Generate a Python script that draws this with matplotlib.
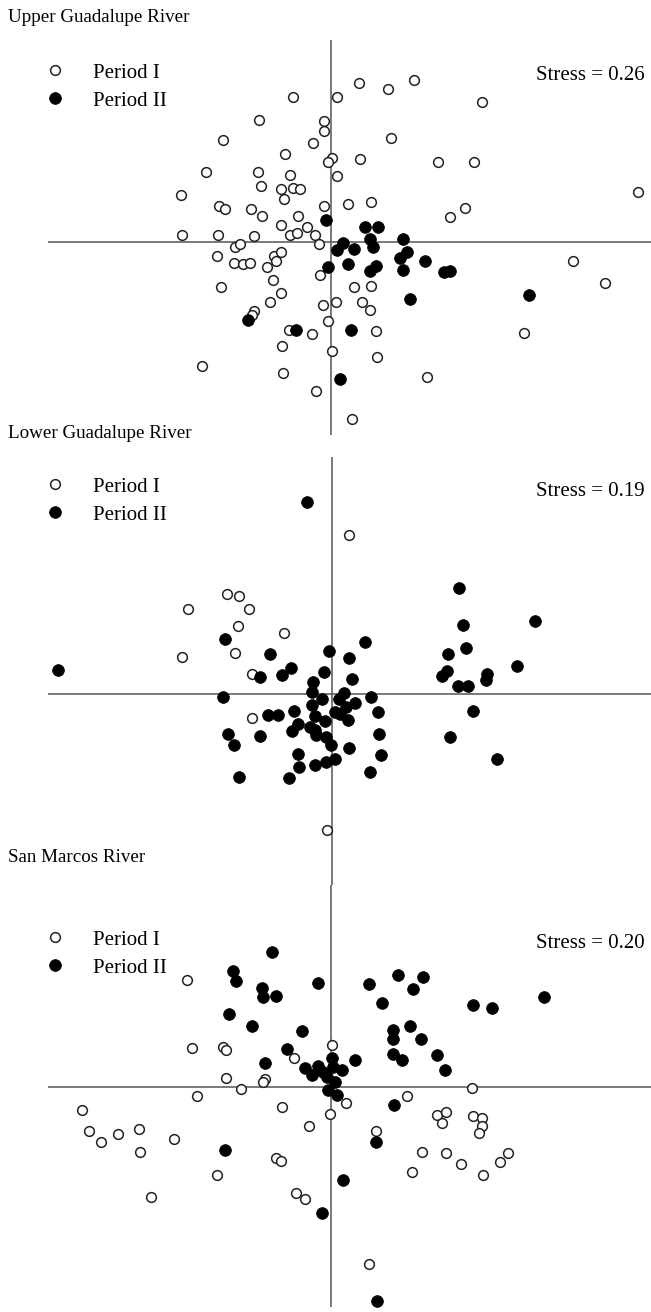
import matplotlib
matplotlib.use("Agg")
import matplotlib.pyplot as plt
from matplotlib.lines import Line2D

plt.rcParams['font.family'] = ['Liberation Serif', 'DejaVu Serif']

# NMDS scores (Period I = open, Period II = filled)
upper_p1_x = [-0.38, 0.06, 0.28, 0.57, 0.83, 1.51, -0.72, -0.07, -0.07, -1.08,
              -0.18, 0.60, -0.46, 0.01, -0.03, 0.29, 1.07, 1.43, -1.25, -0.73,
              -0.41, 0.06, -0.70, -0.50, -0.38, -0.31, -0.47, -1.50, 3.07, -1.12,
              -1.06, -0.80, -0.07, 0.17, 0.40, 1.34, 1.19, -0.69, -0.33, -1.49,
              -1.13, -0.77, -0.96, -0.91, -0.50, -0.41, -0.34, -0.24, -0.16, -0.12,
              -1.14, -0.97, -0.88, -0.81, -0.57, -0.50, -0.55, -0.64, -0.11, -0.58,
              -1.10, -0.50, -0.61, -0.08, -0.77, -0.79, -0.03, -0.42, -0.19, -0.49,
              0.01, -1.29, -0.48, -0.15, 0.23, 0.40, 0.05, 0.31, 0.39, 0.45,
              0.46, 0.96, 0.21, 2.42, 2.74, 1.93]
upper_p1_y = [1.45, 1.45, 1.59, 1.53, 1.62, 1.40, 1.22, 1.21, 1.11, 1.02,
              0.99, 1.04, 0.88, 0.84, 0.80, 0.83, 0.80, 0.80, 0.70, 0.70,
              0.67, 0.66, 0.56, 0.53, 0.54, 0.53, 0.43, 0.47, 0.50, 0.36,
              0.33, 0.33, 0.36, 0.38, 0.40, 0.34, 0.25, 0.26, 0.26, 0.07,
              0.07, 0.06, -0.05, -0.02, 0.17, 0.07, 0.09, 0.15, 0.07, -0.02,
              -0.14, -0.21, -0.22, -0.21, -0.14, -0.10, -0.19, -0.25, -0.33, -0.38,
              -0.45, -0.51, -0.60, -0.63, -0.69, -0.73, -0.79, -0.88, -0.92, -1.04,
              -1.09, -1.24, -1.31, -1.49, -0.45, -0.44, -0.60, -0.60, -0.68, -0.89,
              -1.15, -1.35, -1.77, -0.19, -0.41, -0.91]
upper_p2_x = [-0.05, -0.03, -0.83, -0.35, 0.34, 0.47, 0.39, 0.42, 0.72, 0.12,
              0.06, 0.23, 0.17, 0.39, 0.45, 0.76, 0.69, 0.72, 0.94, 1.13,
              1.19, 0.79, 1.98, 0.20, 0.09]
upper_p2_y = [0.22, -0.25, -0.78, -0.88, 0.15, 0.15, 0.03, -0.05, 0.03, -0.01,
              -0.08, -0.07, -0.22, -0.29, -0.24, -0.10, -0.16, -0.28, -0.19, -0.30,
              -0.29, -0.57, -0.53, -0.88, -1.37]

lower_p1_x = [0.17, -1.05, -0.93, -1.44, -0.83, -0.94, -0.48, -0.97, -1.50, -0.80,
              -0.80, -0.05]
lower_p1_y = [1.59, 1.00, 0.98, 0.85, 0.85, 0.68, 0.61, 0.41, 0.37, 0.20,
              -0.24, -1.36]
lower_p2_x = [-0.25, -1.07, -0.62, -0.03, -2.74, -0.72, -0.50, -0.41, -0.08, -0.19,
              -0.20, -1.09, 1.27, 2.03, 1.31, 1.34, 1.16, 0.33, 0.17, 0.20,
              1.10, 1.15, 1.85, 1.55, 1.54, 1.26, 1.36, 0.12, 0.07, 0.39,
              -0.10, -0.20, 0.23, 0.14, 0.03, 0.08, 0.46, -0.64, -0.54, -0.38,
              -0.17, -0.07, 0.16, -0.34, -0.40, -0.22, -0.17, -0.16, -1.04, -0.72,
              0.47, -0.06, -0.01, -0.98, 0.17, -0.34, 0.49, -0.33, -0.17, -0.06,
              0.03, 0.38, -0.93, -0.43, 1.41, 1.18, 1.65]
lower_p2_y = [1.92, 0.55, 0.40, 0.43, 0.24, 0.17, 0.19, 0.26, 0.22, 0.12,
              0.02, -0.03, 1.06, 0.73, 0.69, 0.46, 0.40, 0.52, 0.36, 0.15,
              0.18, 0.23, 0.28, 0.20, 0.14, 0.08, 0.08, 0.01, -0.05, -0.03,
              -0.05, -0.11, -0.09, -0.13, -0.18, -0.20, -0.18, -0.21, -0.21, -0.17,
              -0.22, -0.27, -0.26, -0.30, -0.37, -0.33, -0.36, -0.41, -0.40, -0.42,
              -0.40, -0.43, -0.51, -0.51, -0.54, -0.60, -0.61, -0.73, -0.71, -0.68,
              -0.65, -0.78, -0.83, -0.84, -0.17, -0.43, -0.65]

sanmarcos_p1_x = [-1.44, -1.39, -1.08, -1.05, -0.37, 0.01, -1.05, -0.66, -0.68, -0.90,
                  -1.34, -2.49, -0.49, -0.01, 0.15, 0.76, 1.41, 1.06, 1.15, 1.11,
                  1.42, 1.51, 1.51, 1.48, -2.42, -2.30, -2.13, -1.92, -1.91, -1.57,
                  -1.14, -0.55, -0.50, -1.80, -0.35, -0.26, -0.22, 0.45, 0.91, 1.15,
                  1.30, 0.81, 1.52, 1.69, 1.77, 0.38]
sanmarcos_p1_y = [1.07, 0.39, 0.40, 0.37, 0.29, 0.42, 0.09, 0.08, 0.05, -0.02,
                  -0.09, -0.23, -0.20, -0.27, -0.16, -0.09, -0.01, -0.28, -0.25, -0.36,
                  -0.29, -0.31, -0.39, -0.46, -0.44, -0.55, -0.47, -0.42, -0.65, -0.52,
                  -0.88, -0.71, -0.74, -1.10, -1.06, -1.12, -0.39, -0.44, -0.65, -0.66,
                  -0.77, -0.85, -0.88, -0.75, -0.66, -1.77]
sanmarcos_p2_x = [-0.59, -0.98, -0.95, -0.13, -0.69, -0.68, -0.55, -1.02, -0.79, -0.29,
                  -0.44, 0.01, -0.66, -0.26, -0.13, -0.19, -0.08, -0.04, 0.02, 0.04,
                  -0.03, 0.06, 0.11, 0.24, 0.38, 0.67, 0.92, 0.82, 0.51, 2.13,
                  1.42, 1.61, 0.79, 0.62, 0.62, 0.90, 0.62, 0.71, 1.06, 1.14,
                  0.63, -1.06, 0.45, 0.12, -0.09, 0.46]
sanmarcos_p2_y = [1.35, 1.16, 1.06, 1.04, 0.99, 0.90, 0.91, 0.73, 0.61, 0.56,
                  0.38, 0.29, 0.24, 0.19, 0.21, 0.12, 0.15, 0.10, 0.20, 0.05,
                  -0.03, -0.08, 0.17, 0.27, 1.03, 1.12, 1.10, 0.98, 0.84, 0.90,
                  0.82, 0.79, 0.61, 0.57, 0.48, 0.48, 0.33, 0.27, 0.32, 0.17,
                  -0.18, -0.63, -0.55, -0.93, -1.26, -2.14]

titles = ["Upper Guadalupe River", "Lower Guadalupe River", "San Marcos River"]
stress = ["Stress = 0.26", "Stress = 0.19", "Stress = 0.20"]
labels = ["Period I", "Period II"]

W, H = 651, 1312
fig = plt.figure(figsize=(W / 100, H / 100), dpi=100)

# panel layout in pixels: axes top, axes bottom, origin (cx, cy), title y, legend y, stress y
panels = [
    dict(top=40, bot=435, cx=331, cy=242, ty=18, ly=63, sy=75,
         p1=(upper_p1_x, upper_p1_y), p2=(upper_p2_x, upper_p2_y)),
    dict(top=457, bot=885, cx=332, cy=694, ty=433, ly=477, sy=491,
         p1=(lower_p1_x, lower_p1_y), p2=(lower_p2_x, lower_p2_y)),
    dict(top=885, bot=1307, cx=331, cy=1087, ty=858, ly=930, sy=943,
         p1=(sanmarcos_p1_x, sanmarcos_p1_y), p2=(sanmarcos_p2_x, sanmarcos_p2_y)),
]
left, right = 48, 651
scale = 100.0  # pixels per NMDS unit

open_style = dict(linestyle='none', marker='o', markersize=7.0,
                  markerfacecolor='white', markeredgecolor='#222222', markeredgewidth=1.1)
fill_style = dict(linestyle='none', marker='o', markersize=8.4,
                  markerfacecolor='black', markeredgecolor='black', markeredgewidth=0.6)

for i, p in enumerate(panels):
    ax = fig.add_axes([left / W, 1 - p['bot'] / H, (right - left) / W, (p['bot'] - p['top']) / H])
    ax.set_xlim((left - p['cx']) / scale, (right - p['cx']) / scale)
    ax.set_ylim((p['cy'] - p['bot']) / scale, (p['cy'] - p['top']) / scale)
    ax.axhline(0, color='#555555', lw=1.1, zorder=1)
    ax.axvline(0, color='#555555', lw=1.1, zorder=1)
    ax.plot(p['p1'][0], p['p1'][1], zorder=3, clip_on=False, **open_style)
    ax.plot(p['p2'][0], p['p2'][1], zorder=4, clip_on=False, **fill_style)
    ax.set_axis_off()

    handles = [Line2D([], [], **open_style), Line2D([], [], **fill_style)]
    ax.legend(handles, labels, loc='upper left', bbox_to_anchor=(45 / W, 1 - p['ly'] / H),
              bbox_transform=fig.transFigure, frameon=False, fontsize=15,
              borderpad=0, borderaxespad=0, handlelength=1.0, handletextpad=1.3,
              labelspacing=0.41)

    fig.text(8 / W, 1 - p['ty'] / H, titles[i], fontsize=13.7, va='center', ha='left')
    fig.text(645 / W, 1 - p['sy'] / H, stress[i], fontsize=15, va='center', ha='right')

fig.savefig("out.png", dpi=100, facecolor='white')
